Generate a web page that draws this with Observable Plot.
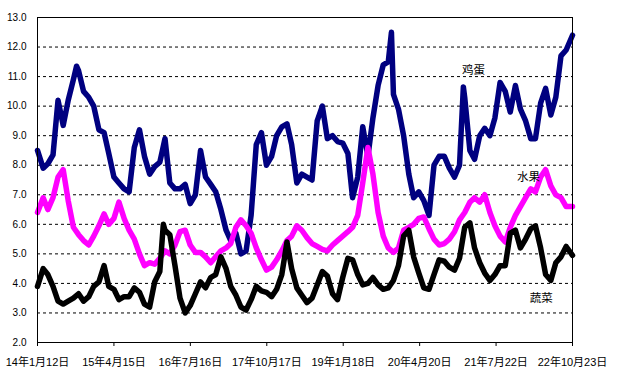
<!DOCTYPE html>
<html>
<head>
<meta charset="utf-8">
<script src="https://cdn.jsdelivr.net/npm/d3@7"></script>
<script src="https://cdn.jsdelivr.net/npm/@observablehq/plot@0.6"></script>
<style>
  html, body { margin: 0; padding: 0; background: #fff; }
  #chart { width: 624px; height: 382px; }
</style>
</head>
<body>
<div id="chart"></div>
<script>
// Monthly readings (mid-month), Jan 2014 .. Oct 2022
const egg = [
  8.5, 7.9, 8.05, 8.35, 10.2, 9.35, 10.2, 10.9, 11.2, 10.5, 10.3, 10.0,
  9.2, 9.1, 8.4, 7.6, 7.4, 7.2, 7.1, 8.6, 9.2, 8.3, 7.7, 7.95,
  8.1, 8.9, 7.4, 7.2, 7.2, 7.35, 6.7, 7.0, 8.5, 7.6, 7.35, 7.1,
  6.5, 5.8, 5.45, 5.7, 5.0, 5.1, 6.3, 8.7, 9.1, 8.0, 8.3, 9.0,
  9.3, 9.4, 8.7, 7.4, 7.7, 7.6, 7.5, 9.5, 10.0, 8.9, 9.0, 8.8,
  8.75, 8.4, 6.9, 7.6, 9.3, 8.3, 9.6, 10.7, 11.4, 11.5, 10.4, 9.9,
  9.0, 7.7, 6.9, 7.1, 6.8, 6.3, 8.0, 8.3, 8.3, 7.9, 7.6, 8.0,
  10.3, 8.5, 8.2, 9.0, 9.25, 9.0, 9.6, 10.8, 10.5, 9.8, 10.7, 9.9,
  9.5, 8.9, 8.9, 10.1, 10.6, 9.7, 10.3, 11.7, 11.9, 12.4
];
const fruit = [
  6.4, 6.9, 6.5, 6.9, 7.6, 7.85, 6.8, 5.9, 5.65, 5.45, 5.3, 5.6,
  5.95, 6.35, 6.0, 6.2, 6.75, 6.2, 5.8, 5.5, 5.0, 4.6, 4.7, 4.65,
  4.85, 5.1, 5.0, 5.3, 5.75, 5.8, 5.3, 5.05, 5.05, 4.9, 4.7, 4.9,
  5.1, 5.2, 5.35, 5.9, 6.15, 5.95, 5.7, 5.2, 4.8, 4.45, 4.55, 4.8,
  5.1, 5.45, 5.6, 5.95, 5.8, 5.55, 5.35, 5.25, 5.15, 5.1, 5.3, 5.45,
  5.6, 5.75, 5.9, 6.3, 7.4, 8.6, 7.7, 6.4, 5.6, 5.2, 5.05, 5.2,
  5.8, 5.9, 6.0, 6.2, 6.25, 5.85, 5.5, 5.3, 5.35, 5.5, 5.75, 6.15,
  6.4, 6.75, 6.9, 6.75, 7.0, 6.4, 5.95, 5.6, 5.4, 5.9, 6.3, 6.6,
  6.9, 7.2, 7.1, 7.6, 7.85, 7.3, 7.0, 6.9, 6.6, 6.6
];
const veg = [
  3.9, 4.5, 4.3, 3.9, 3.4, 3.3, 3.4, 3.5, 3.65, 3.4, 3.55, 3.9,
  4.05, 4.6, 3.9, 3.8, 3.45, 3.55, 3.55, 3.85, 3.7, 3.3, 3.2, 4.05,
  4.4, 5.8, 5.65, 4.6, 3.5, 3.0, 3.25, 3.65, 4.05, 3.85, 4.2, 4.3,
  4.9, 4.5, 3.9, 3.6, 3.2, 3.1, 3.45, 3.9, 3.75, 3.7, 3.55, 3.8,
  4.3, 5.4, 4.5, 3.85, 3.6, 3.35, 3.5, 3.95, 4.4, 4.25, 3.65, 3.45,
  4.2, 4.85, 4.8, 4.3, 3.95, 4.0, 4.2, 3.95, 3.8, 3.85, 4.1, 4.6,
  5.6, 5.8, 4.9, 4.35, 3.85, 3.8, 4.3, 4.8, 4.75, 4.55, 4.45, 4.85,
  5.9, 6.05, 5.2, 4.7, 4.35, 4.1, 4.3, 4.6, 4.6, 5.7, 5.8, 5.2,
  5.5, 5.85, 5.95, 5.2, 4.3, 4.1, 4.7, 4.9, 5.25, 4.95
];
// short-lived spikes read between the monthly points
const eggSpikes = [["2014-09-03", 11.35], ["2019-11-03", 12.5], ["2021-01-07", 10.65]];
const vegSpikes = [["2016-02-05", 6.0]];

const tickDates = ["2014-01-12", "2015-04-15", "2016-07-16", "2017-10-17", "2019-01-18", "2020-04-20", "2021-07-22", "2022-10-23"];
const tickLabels = ["14年1月12日", "15年4月15日", "16年7月16日", "17年10月17日", "19年1月18日", "20年4月20日", "21年7月22日", "22年10月23日"];
const yTicks = [2, 3, 4, 5, 6, 7, 8, 9, 10, 11, 12, 13];

const seriesNames = ["鸡蛋", "水果", "蔬菜"];
const labelDates = ["2021-03-08", "2022-02-01", "2022-04-19"];
const labelValues = [11.2, 7.6, 3.5];

// ---- build tables ----
const dates = d3.range(egg.length).map(i =>
  new Date(Date.UTC(2014, i, i === 0 ? 12 : (i === egg.length - 1 ? 23 : 15))));
const toRows = (vals, extra = []) =>
  dates.map((d, i) => ({date: d, value: vals[i]}))
    .concat(extra.map(([s, v]) => ({date: new Date(s), value: v})))
    .sort((a, b) => a.date - b.date);

const eggRows = toRows(egg, eggSpikes);
const fruitRows = toRows(fruit);
const vegRows = toRows(veg, vegSpikes);
const ticks = tickDates.map(s => new Date(s));
const labels = seriesNames.map((n, i) => ({name: n, date: new Date(labelDates[i]), value: labelValues[i]}));

const font = "'Liberation Sans', Arial, 'Noto Sans CJK SC', sans-serif";

const chart = Plot.plot({
  width: 624,
  height: 382,
  marginLeft: 37,
  marginRight: 52,
  marginTop: 17,
  marginBottom: 40,
  style: {fontFamily: font, background: "#fff", color: "#000"},
  x: {type: "utc", domain: [new Date("2014-01-12"), new Date("2022-10-23")]},
  y: {domain: [2, 13]},
  marks: [
    Plot.ruleY(yTicks.filter(v => v > 2 && v < 13), {stroke: "#000", strokeWidth: 1, strokeDasharray: "3,3"}),
    Plot.lineY(eggRows, {x: "date", y: "value", stroke: "#000080", strokeWidth: 5.5, strokeLinejoin: "round", strokeLinecap: "round"}),
    Plot.lineY(fruitRows, {x: "date", y: "value", stroke: "#ff00ff", strokeWidth: 5.5, strokeLinejoin: "round", strokeLinecap: "round"}),
    Plot.lineY(vegRows, {x: "date", y: "value", stroke: "#000000", strokeWidth: 5.5, strokeLinejoin: "round", strokeLinecap: "round"}),
    Plot.frame({stroke: "#000", strokeWidth: 1}),
    Plot.axisY({ticks: yTicks, tickFormat: d => d.toFixed(1), tickSize: 0, tickPadding: 11, fontSize: 10, label: null}),
    Plot.axisX({ticks: ticks, tickFormat: d => tickLabels[ticks.findIndex(t => +t === +d)], tickSize: 4, tickPadding: 12, fontSize: 11, label: null}),
    Plot.text(labels, {x: "date", y: "value", text: "name", fontSize: 11.5, fill: "#000", fontFamily: "'Noto Sans CJK SC', sans-serif"})
  ]
});
document.getElementById("chart").appendChild(chart);
</script>
</body>
</html>
